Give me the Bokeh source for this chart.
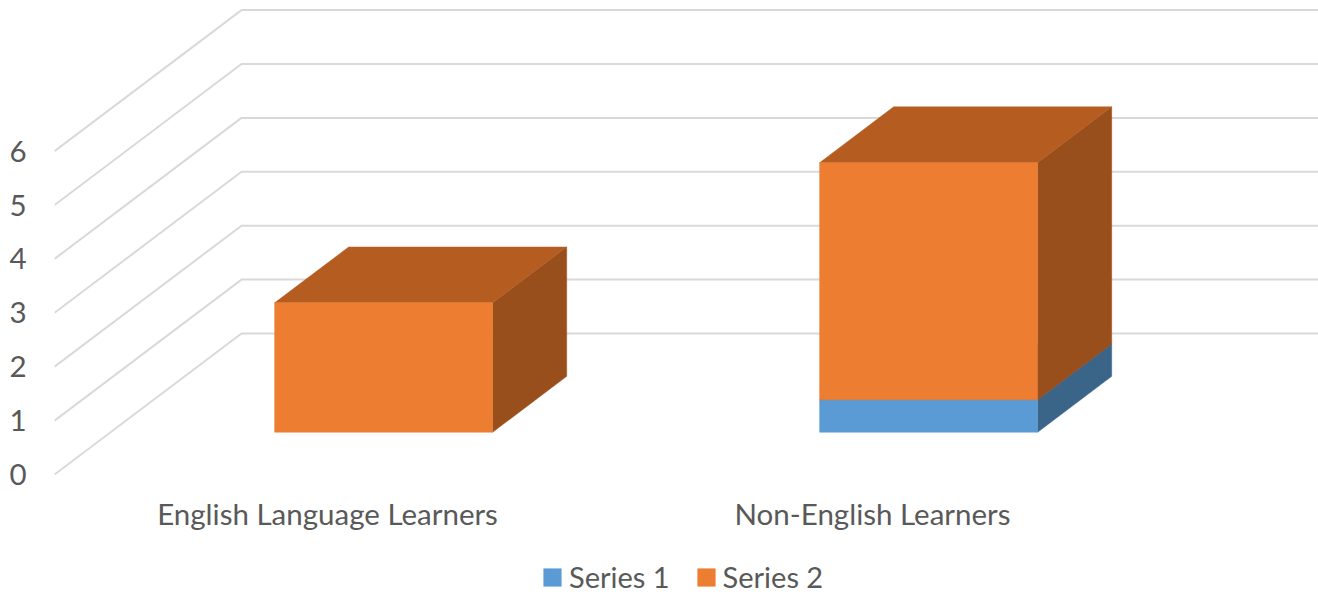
from bokeh.plotting import figure
from bokeh.core.properties import value
from bokeh.models import FixedTicker, Legend, LegendItem, Range1d
from bokeh.embed import file_html
from bokeh.resources import INLINE

categories = ["English Language Learners", "Non-English Learners"]
series_1 = [0.0, 0.6]
series_2 = [2.4, 4.4]
y_ticks = [0, 1, 2, 3, 4, 5, 6]
category_positions = [1, 2]

FONT = "Lato"
TEXT = "#595959"
GRID = "#D9D9D9"
FS = "29.5px"

# oblique projection of the 3D box, in data units
DX, DY = 187 / 545, 141 / 53.9
FRONT, BACK = 0.30, 0.696
HALF = 0.2

X0, X1 = 0.499, 2.8183
Y0, Y1 = -2.226, 8.794
LABEL_Y = -0.723

p = figure(width=1318, height=594, output_backend="svg", toolbar_location=None,
           x_range=Range1d(X0, X1), y_range=Range1d(Y0, Y1), x_axis_location=None,
           min_border_left=54, min_border_right=0, min_border_top=0, min_border_bottom=0,
           outline_line_color=None, background_fill_color="white")
p.grid.visible = False

# walls: front edge to back wall, then along the back wall
p.multi_line(xs=[[X0, X0 + DX, X1] for _ in y_ticks],
             ys=[[v, v + DY, v + DY] for v in y_ticks],
             line_color=GRID, line_width=2)

def project(i, depth, v):
    return i + depth * DX, v + depth * DY

def box(lower, upper, front, top, side):
    sx, sy, tx, ty = [], [], [], []
    l, r, b, t = [], [], [], []
    for k, (lo, hi) in enumerate(zip(lower, upper), start=1):
        if hi <= lo:
            continue
        a, c = k - HALF, k + HALF
        x1, y1 = project(c, FRONT, lo)
        x2, y2 = project(c, BACK, lo)
        x3, y3 = project(c, BACK, hi)
        x4, y4 = project(c, FRONT, hi)
        sx.append([x1, x2, x3, x4]); sy.append([y1, y2, y3, y4])
        x5, y5 = project(a, FRONT, hi)
        x6, y6 = project(a, BACK, hi)
        tx.append([x5, x6, x3, x4]); ty.append([y5, y6, y3, y4])
        l.append(x5); r.append(x4); b.append(y1); t.append(y4)
    p.patches(sx, sy, fill_color=side, line_color=side, line_width=0.5)
    p.patches(tx, ty, fill_color=top, line_color=top, line_width=0.5)
    return p.quad(left=l, right=r, bottom=b, top=t, fill_color=front, line_color=front, line_width=0.5)

tops = [a + b for a, b in zip(series_1, series_2)]
r1 = box([0, 0], series_1, "#5B9BD5", "#47799F", "#3A6488")
r2 = box(series_1, tops, "#ED7D31", "#B55D21", "#984F1C")

p.text(x=category_positions, y=[LABEL_Y] * len(categories), text=categories,
       text_font=value(FONT), text_font_size=value(FS), text_color=TEXT,
       text_align="center", text_baseline="middle")

ya = p.yaxis[0]
ya.ticker = FixedTicker(ticks=y_ticks)
ya.axis_line_color = None
ya.major_tick_line_color = None
ya.minor_tick_line_color = None
ya.major_tick_in = 0
ya.major_tick_out = 0
ya.major_label_standoff = 28
ya.major_label_text_font = FONT
ya.major_label_text_font_size = FS
ya.major_label_text_color = TEXT

legend = Legend(items=[LegendItem(label="Series 1", renderers=[r1]),
                       LegendItem(label="Series 2", renderers=[r2])],
                orientation="horizontal", location=(487, 0),
                glyph_width=22, glyph_height=22, label_standoff=6, spacing=25,
                border_line_color=None, background_fill_alpha=0,
                label_text_font=FONT, label_text_font_size="29px", label_text_color=TEXT,
                margin=0, padding=0)
p.add_layout(legend, "center")

open("out.html", "w").write(file_html(p, INLINE))
